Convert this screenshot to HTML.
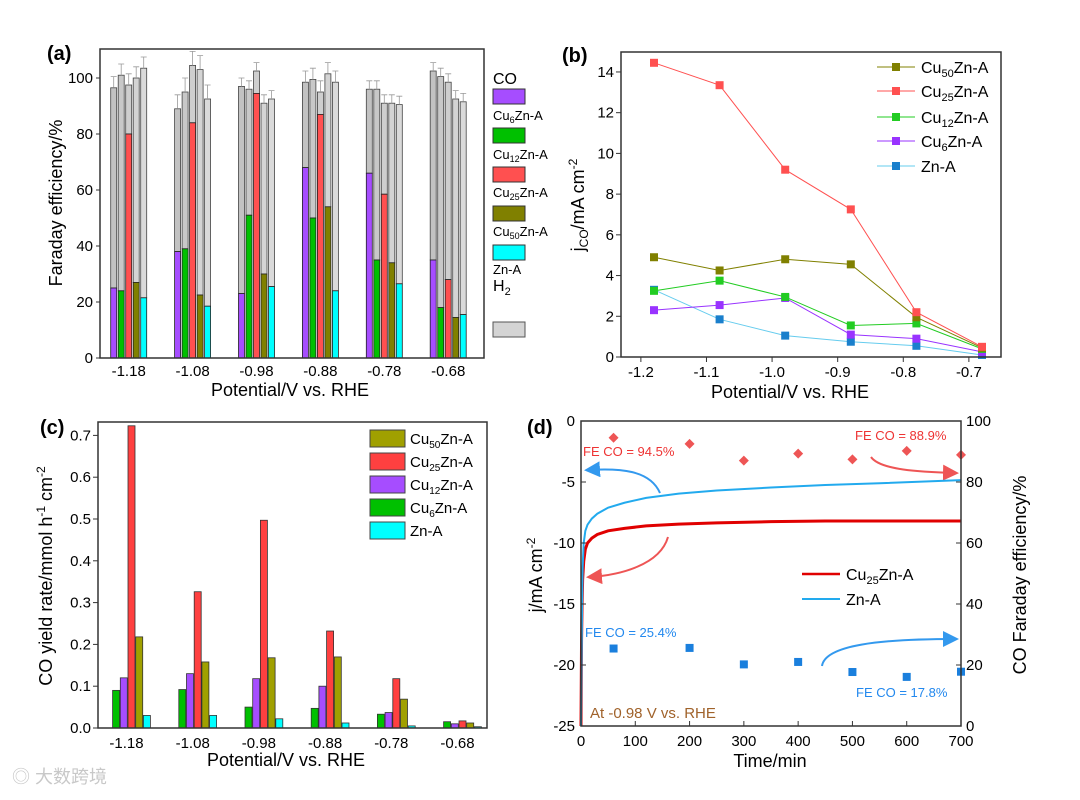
<!DOCTYPE html>
<html><head><meta charset="utf-8">
<style>
html,body{margin:0;padding:0;background:#fff;}
svg{display:block;font-family:"Liberation Sans","Noto Sans CJK SC",sans-serif;}
</style></head>
<body>
<svg id="fig" width="1080" height="800" viewBox="0 0 1080 800">
  <!-- panel labels -->
  <text x="47" y="60" font-size="20" font-weight="bold">(a)</text>
  <text x="562" y="62" font-size="20" font-weight="bold">(b)</text>
  <text x="40" y="434" font-size="20" font-weight="bold">(c)</text>
  <text x="527" y="434" font-size="20" font-weight="bold">(d)</text>

  <!-- axis titles -->
  <text transform="translate(62,203) rotate(-90)" text-anchor="middle" font-size="18">Faraday efficiency/%</text>
  <text x="290" y="396" text-anchor="middle" font-size="18">Potential/V vs. RHE</text>
  <text transform="translate(584,205) rotate(-90)" text-anchor="middle" font-size="18">j<tspan font-size="12" dy="4">CO</tspan><tspan dy="-4">/mA cm</tspan><tspan font-size="12" dy="-7">-2</tspan></text>
  <text x="790" y="398" text-anchor="middle" font-size="18">Potential/V vs. RHE</text>
  <text transform="translate(52,576) rotate(-90)" text-anchor="middle" font-size="18">CO yield rate/mmol h<tspan font-size="12" dy="-7">-1</tspan><tspan dy="7"> cm</tspan><tspan font-size="12" dy="-7">-2</tspan></text>
  <text x="286" y="766" text-anchor="middle" font-size="18">Potential/V vs. RHE</text>
  <text transform="translate(542,575) rotate(-90)" text-anchor="middle" font-size="18">j/mA cm<tspan font-size="12" dy="-7">-2</tspan></text>
  <text transform="translate(1026,575) rotate(-90)" text-anchor="middle" font-size="18">CO Faraday efficiency/%</text>
  <text x="770" y="767" text-anchor="middle" font-size="18">Time/min</text>

  <!-- legend a -->
  <g font-size="13">
    <text x="493" y="84" font-size="16">CO</text>
    <rect x="493" y="89" width="32" height="15" fill="#a64dff" stroke="#333"/>
    <text x="493" y="120">Cu<tspan font-size="9" dy="3">6</tspan><tspan dy="-3">Zn-A</tspan></text>
    <rect x="493" y="128" width="32" height="15" fill="#00c000" stroke="#333"/>
    <text x="493" y="159">Cu<tspan font-size="9" dy="3">12</tspan><tspan dy="-3">Zn-A</tspan></text>
    <rect x="493" y="167" width="32" height="15" fill="#ff5050" stroke="#333"/>
    <text x="493" y="197">Cu<tspan font-size="9" dy="3">25</tspan><tspan dy="-3">Zn-A</tspan></text>
    <rect x="493" y="206" width="32" height="15" fill="#808000" stroke="#333"/>
    <text x="493" y="236">Cu<tspan font-size="9" dy="3">50</tspan><tspan dy="-3">Zn-A</tspan></text>
    <rect x="493" y="245" width="32" height="15" fill="#00ffff" stroke="#333"/>
    <text x="493" y="274">Zn-A</text>
    <text x="493" y="291" font-size="16">H<tspan font-size="11" dy="4">2</tspan></text>
    <rect x="493" y="322" width="32" height="15" fill="#d4d4d4" stroke="#555"/>
  </g>

  <!-- legend b -->
  <g font-size="16">
    <line x1="877" y1="67" x2="915" y2="67" stroke="#808000"/>
    <rect x="892" y="63" width="8" height="8" fill="#808000"/>
    <text x="921" y="73">Cu<tspan font-size="11" dy="4">50</tspan><tspan dy="-4">Zn-A</tspan></text>
    <line x1="877" y1="91" x2="915" y2="91" stroke="#ff5050"/>
    <rect x="892" y="87" width="8" height="8" fill="#ff5050"/>
    <text x="921" y="97">Cu<tspan font-size="11" dy="4">25</tspan><tspan dy="-4">Zn-A</tspan></text>
    <line x1="877" y1="117" x2="915" y2="117" stroke="#22cc22"/>
    <rect x="892" y="113" width="8" height="8" fill="#22cc22"/>
    <text x="921" y="123">Cu<tspan font-size="11" dy="4">12</tspan><tspan dy="-4">Zn-A</tspan></text>
    <line x1="877" y1="141" x2="915" y2="141" stroke="#9933ff"/>
    <rect x="892" y="137" width="8" height="8" fill="#9933ff"/>
    <text x="921" y="147">Cu<tspan font-size="11" dy="4">6</tspan><tspan dy="-4">Zn-A</tspan></text>
    <line x1="877" y1="166" x2="915" y2="166" stroke="#66ccee"/>
    <rect x="892" y="162" width="8" height="8" fill="#1a7fcc"/>
    <text x="921" y="172">Zn-A</text>
  </g>

  <!-- legend c -->
  <g font-size="15">
    <rect x="370" y="430" width="35" height="17" fill="#a0a000" stroke="#444"/>
    <text x="410" y="444">Cu<tspan font-size="10" dy="4">50</tspan><tspan dy="-4">Zn-A</tspan></text>
    <rect x="370" y="453" width="35" height="17" fill="#ff4040" stroke="#444"/>
    <text x="410" y="467">Cu<tspan font-size="10" dy="4">25</tspan><tspan dy="-4">Zn-A</tspan></text>
    <rect x="370" y="476" width="35" height="17" fill="#a64dff" stroke="#444"/>
    <text x="410" y="490">Cu<tspan font-size="10" dy="4">12</tspan><tspan dy="-4">Zn-A</tspan></text>
    <rect x="370" y="499" width="35" height="17" fill="#00c000" stroke="#444"/>
    <text x="410" y="513">Cu<tspan font-size="10" dy="4">6</tspan><tspan dy="-4">Zn-A</tspan></text>
    <rect x="370" y="522" width="35" height="17" fill="#00ffff" stroke="#444"/>
    <text x="410" y="536">Zn-A</text>
  </g>

  <!-- legend d -->
  <g font-size="16">
    <line x1="802" y1="574" x2="840" y2="574" stroke="#e00000" stroke-width="2.5"/>
    <text x="846" y="580">Cu<tspan font-size="11" dy="4">25</tspan><tspan dy="-4">Zn-A</tspan></text>
    <line x1="802" y1="599" x2="840" y2="599" stroke="#22aaee" stroke-width="2"/>
    <text x="846" y="605">Zn-A</text>
  </g>

  <!-- annotations d -->
  <g font-size="13">
    <text x="583" y="456" fill="#ee3333">FE CO = 94.5%</text>
    <text x="855" y="440" fill="#ee3333">FE CO = 88.9%</text>
    <text x="585" y="637" fill="#2288ee">FE CO = 25.4%</text>
    <text x="856" y="697" fill="#2288ee">FE CO = 17.8%</text>
    <text x="590" y="718" font-size="15" fill="#a0622a">At -0.98 V vs. RHE</text>
  </g>
  <defs>
    <marker id="arB" markerWidth="8" markerHeight="8" refX="6" refY="4" orient="auto"><path d="M0,0 L8,4 L0,8 z" fill="#3399ee"/></marker>
    <marker id="arR" markerWidth="8" markerHeight="8" refX="6" refY="4" orient="auto"><path d="M0,0 L8,4 L0,8 z" fill="#ee5555"/></marker>
  </defs>
  <g fill="none" stroke-width="2">
    <path d="M660,493 C650,470 620,468 588,470" stroke="#3399ee" marker-end="url(#arB)"/>
    <path d="M668,537 C660,565 620,575 590,577" stroke="#ee5555" marker-end="url(#arR)"/>
    <path d="M871,457 C880,470 920,472 955,473" stroke="#ee5555" marker-end="url(#arR)"/>
    <path d="M822,666 C825,645 880,639 955,639" stroke="#3399ee" marker-end="url(#arB)"/>
  </g>

  <text x="12" y="783" font-size="18" fill="#c8c8c8">◎ 大数跨境</text>
</svg>

<script>
// ---------- Panel (a) data ----------
const aCategories = ['-1.18','-1.08','-0.98','-0.88','-0.78','-0.68'];
const aSeriesNames = ['Cu6Zn-A','Cu12Zn-A','Cu25Zn-A','Cu50Zn-A','Zn-A'];
const aCO_cu6  = [25, 38, 23, 68, 66, 35];
const aCO_cu12 = [24, 39, 51, 50, 35, 18];
const aCO_cu25 = [80, 84, 94.5, 87, 58.5, 28];
const aCO_cu50 = [27, 22.5, 30, 54, 34, 14.5];
const aCO_zn   = [21.5, 18.5, 25.5, 24, 26.5, 15.5];
const aTot_cu6  = [96.5, 89, 97, 98.5, 96, 102.5];
const aTot_cu12 = [101, 95, 96, 99.5, 96, 100.5];
const aTot_cu25 = [97.5, 104.5, 102.5, 95, 91, 98.5];
const aTot_cu50 = [100, 103, 91, 101.5, 91, 92.5];
const aTot_zn   = [103.5, 92.5, 92.5, 98.5, 90.5, 91.5];
const aErr = [4, 5, 3, 4, 3, 3];
const aYTicks = [0, 20, 40, 60, 80, 100];

// ---------- Panel (b) data ----------
const bPotentials = [-1.18, -1.08, -0.98, -0.88, -0.78, -0.68];
const bCu50 = [4.9, 4.25, 4.8, 4.55, 1.95, 0.45];
const bCu25 = [14.45, 13.35, 9.2, 7.25, 2.2, 0.5];
const bCu12 = [3.25, 3.75, 2.95, 1.55, 1.65, 0.4];
const bCu6  = [2.3, 2.55, 2.9, 1.1, 0.9, 0.25];
const bZn   = [3.3, 1.85, 1.05, 0.75, 0.55, 0.1];
const bXTicks = [-1.2, -1.1, -1.0, -0.9, -0.8, -0.7];
const bXTickLabels = ['-1.2','-1.1','-1.0','-0.9','-0.8','-0.7'];
const bYTicks = [0, 2, 4, 6, 8, 10, 12, 14];

// ---------- Panel (c) data ----------
const cCategories = ['-1.18','-1.08','-0.98','-0.88','-0.78','-0.68'];
const cCu6  = [0.09, 0.092, 0.05, 0.047, 0.033, 0.015];
const cCu12 = [0.12, 0.13, 0.118, 0.1, 0.037, 0.01];
const cCu25 = [0.723, 0.326, 0.497, 0.232, 0.118, 0.017];
const cCu50 = [0.218, 0.158, 0.168, 0.17, 0.069, 0.012];
const cZn   = [0.03, 0.03, 0.022, 0.012, 0.005, 0.003];
const cYTicks = [0, 0.1, 0.2, 0.3, 0.4, 0.5, 0.6, 0.7];
const cYTickLabels = ['0.0','0.1','0.2','0.3','0.4','0.5','0.6','0.7'];

// ---------- Panel (d) data ----------
const dTime = [0, 1, 2, 3, 5, 8, 12, 20, 30, 50, 80, 120, 180, 250, 350, 450, 550, 700];
const dJCu25 = [-25, -18, -15, -13, -11.5, -10.5, -10, -9.6, -9.3, -9, -8.8, -8.6, -8.45, -8.35, -8.25, -8.2, -8.2, -8.2];
const dJZn = [-25, -20, -15, -12, -10, -9, -8.5, -8, -7.6, -7.1, -6.7, -6.3, -5.95, -5.7, -5.45, -5.25, -5.1, -4.85];
const dFETime = [60, 200, 300, 400, 500, 600, 700];
const dFECu25 = [94.5, 92.5, 87, 89.3, 87.4, 90.2, 88.9];
const dFEZn = [25.4, 25.6, 20.2, 21, 17.7, 16.1, 17.8];
const dXTicks = [0, 100, 200, 300, 400, 500, 600, 700];
const dYTicks = [0, -5, -10, -15, -20, -25];
const dY2Ticks = [0, 20, 40, 60, 80, 100];

const NS = 'http://www.w3.org/2000/svg';
const svg = document.getElementById('fig');
function mk(tag, attrs, parent) {
  const e = document.createElementNS(NS, tag);
  for (const k in attrs) e.setAttribute(k, attrs[k]);
  (parent || svg).appendChild(e);
  return e;
}
function txt(x, y, s, size, anchor, parent) {
  const t = mk('text', {x: x, y: y, 'font-size': size, 'text-anchor': anchor}, parent);
  t.textContent = s;
  return t;
}
function frame(x0, y0, x1, y1, name) {
  const r = mk('rect', {x: x0, y: y0, width: x1 - x0, height: y1 - y0, fill: 'none', stroke: '#333', 'stroke-width': 1.5});
  
  
}

// ===== Panel (a) =====
(function () {
  const X0 = 100, X1 = 484, Y0 = 49, Y1 = 358;
  const y = v => Y1 - v * 2.8;
  const gx = i => 128.7 + i * 63.9;
  const g = mk('g', {});
  
  
  const co = [aCO_cu6, aCO_cu12, aCO_cu25, aCO_cu50, aCO_zn];
  const tot = [aTot_cu6, aTot_cu12, aTot_cu25, aTot_cu50, aTot_zn];
  const cols = ['#a64dff', '#00c000', '#ff5050', '#808000', '#00ffff'];
  const grays = ['#c2c2c2', '#c8c8c8', '#cecece', '#d4d4d4', '#dadada'];
  aCategories.forEach((c, i) => {
    for (let s = 0; s < 5; s++) {
      const bx = gx(i) + (s - 2) * 7.5 - 3;
      const h2 = mk('rect', {x: bx, y: y(tot[s][i]), width: 6, height: y(co[s][i]) - y(tot[s][i]), fill: grays[s], stroke: '#444', 'stroke-width': 0.8}, g);
      
      
      const b = mk('rect', {x: bx, y: y(co[s][i]), width: 6, height: Y1 - y(co[s][i]), fill: cols[s], stroke: '#222', 'stroke-width': 0.8}, g);
      
      
      const ex = bx + 3;
      const eb = mk('path', {d: `M${ex},${y(tot[s][i])} V${y(tot[s][i] + aErr[i])} M${ex - 3},${y(tot[s][i] + aErr[i])} H${ex + 3}`, stroke: '#999', 'stroke-width': 0.8, fill: 'none'}, g);
      
      
    }
    const tl = txt(gx(i), 376, c, 15, 'middle');
    
    
  });
  aYTicks.forEach(v => {
    const tk = mk('line', {x1: X0 - 4, x2: X0, y1: y(v), y2: y(v), stroke: '#333'});
    
    
    const tl = txt(X0 - 7, y(v) + 5, String(v), 15, 'end');
    
    
  });
  frame(X0, Y0, X1, Y1, 'a-plot-frame');
})();

// ===== Panel (b) =====
(function () {
  const X0 = 621, X1 = 1001, Y0 = 52, Y1 = 357;
  const x = v => 654 + (v + 1.18) * 656;
  const y = v => Y1 - v * 20.36;
  const g = mk('g', {});
  
  
  const series = [[bZn, '#66ccee', '#1a7fcc', 'zn'], [bCu6, '#9933ff', '#9933ff', 'cu6'], [bCu12, '#22cc22', '#22cc22', 'cu12'], [bCu50, '#808000', '#808000', 'cu50'], [bCu25, '#ff5050', '#ff5050', 'cu25']];
  series.forEach(([vals, lc, mc, nm]) => {
    const d = vals.map((v, i) => (i ? 'L' : 'M') + x(bPotentials[i]) + ',' + y(v)).join(' ');
    const p = mk('path', {d: d, fill: 'none', stroke: lc, 'stroke-width': 1}, g);
    
    
    vals.forEach((v, i) => {
      const m = mk('rect', {x: x(bPotentials[i]) - 4, y: y(v) - 4, width: 8, height: 8, fill: mc}, g);
      
      
    });
  });
  bXTicks.forEach((v, i) => {
    const tk = mk('line', {x1: x(v), x2: x(v), y1: Y1, y2: Y1 + 5, stroke: '#333'});
    
    
    const tl = txt(x(v), 377, bXTickLabels[i], 15, 'middle');
    
    
  });
  bYTicks.forEach(v => {
    const tk = mk('line', {x1: X0 - 5, x2: X0, y1: y(v), y2: y(v), stroke: '#333'});
    
    
    const tl = txt(X0 - 7, y(v) + 5, String(v), 15, 'end');
    
    
  });
  frame(X0, Y0, X1, Y1, 'b-plot-frame');
})();

// ===== Panel (c) =====
(function () {
  const X0 = 98, X1 = 487, Y0 = 422, Y1 = 728;
  const y = v => Y1 - v * 418;
  const gx = i => 131.5 + i * 66.2;
  const g = mk('g', {});
  
  
  const series = [[cCu6, '#00c000', 'cu6'], [cCu12, '#a64dff', 'cu12'], [cCu25, '#ff4040', 'cu25'], [cCu50, '#a0a000', 'cu50'], [cZn, '#00ffff', 'zn']];
  cCategories.forEach((c, i) => {
    series.forEach(([vals, col, nm], s) => {
      const b = mk('rect', {x: gx(i) + (s - 2) * 7.7 - 3.5, y: y(vals[i]), width: 7, height: Y1 - y(vals[i]), fill: col, stroke: '#333', 'stroke-width': 0.8}, g);
      
      
    });
    const tl = txt(gx(i) - 5, 748, c, 15, 'middle');
    
    
  });
  cYTicks.forEach((v, i) => {
    const tk = mk('line', {x1: X0 - 5, x2: X0, y1: y(v), y2: y(v), stroke: '#333'});
    
    
    const tl = txt(X0 - 7, y(v) + 5, cYTickLabels[i], 15, 'end');
    
    
  });
  frame(X0, Y0, X1, Y1, 'c-plot-frame');
})();

// ===== Panel (d) =====
(function () {
  const X0 = 581, X1 = 961, Y0 = 421, Y1 = 726;
  const x = v => X0 + v * (X1 - X0) / 700;
  const y = v => Y0 - v * 12.2;
  const y2 = v => Y1 - v * 3.05;
  const g = mk('g', {});
  
  
  const pr = mk('path', {d: dTime.map((t, i) => (i ? 'L' : 'M') + x(t) + ',' + y(dJCu25[i])).join(' '), fill: 'none', stroke: '#e00000', 'stroke-width': 3}, g);
  
  
  const pb = mk('path', {d: dTime.map((t, i) => (i ? 'L' : 'M') + x(t) + ',' + y(dJZn[i])).join(' '), fill: 'none', stroke: '#22aaee', 'stroke-width': 2}, g);
  
  
  dFETime.forEach((t, i) => {
    const cx = x(t), cy = y2(dFECu25[i]);
    const dm = mk('path', {d: `M${cx},${cy - 5} L${cx + 5},${cy} L${cx},${cy + 5} L${cx - 5},${cy} z`, fill: '#ee5555'}, g);
    
    
    const sq = mk('rect', {x: x(t) - 4, y: y2(dFEZn[i]) - 4, width: 8, height: 8, fill: '#1a7fdd'}, g);
    
    
  });
  dXTicks.forEach(v => {
    const tk = mk('line', {x1: x(v), x2: x(v), y1: Y1, y2: Y1 - 5, stroke: '#333'});
    
    
    const tl = txt(x(v), 746, String(v), 15, 'middle');
    
    
  });
  dYTicks.forEach(v => {
    const tk = mk('line', {x1: X0, x2: X0 + 5, y1: y(v), y2: y(v), stroke: '#333'});
    
    
    const tl = txt(X0 - 6, y(v) + 5, String(v), 15, 'end');
    
    
  });
  dY2Ticks.forEach(v => {
    const tk = mk('line', {x1: X1 - 5, x2: X1, y1: y2(v), y2: y2(v), stroke: '#333'});
    
    
    const tl = txt(X1 + 5, y2(v) + 5, String(v), 15, 'start');
    
    
  });
  frame(X0, Y0, X1, Y1, 'd-plot-frame');
})();
</script>
</body></html>
